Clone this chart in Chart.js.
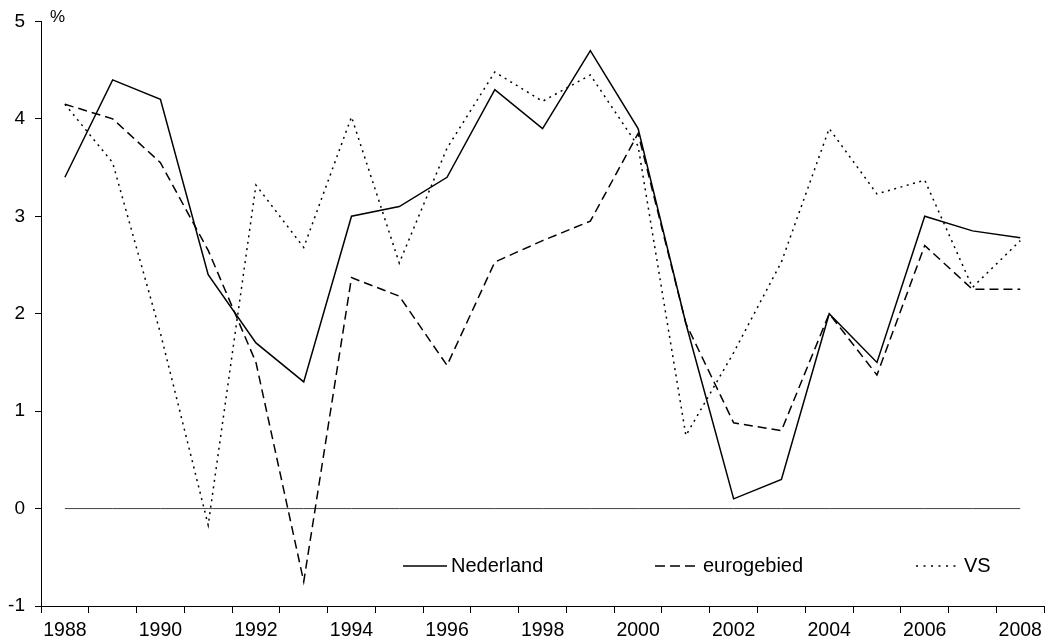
<!DOCTYPE html>
<html>
<head>
<meta charset="utf-8">
<script src="https://cdn.jsdelivr.net/npm/chart.js@4/dist/chart.umd.min.js"></script>
<style>
  html, body { margin: 0; padding: 0; background: #fff; }
  canvas { display: block; }
</style>
</head>
<body>
<canvas id="c" width="1048" height="640"></canvas>
<script>
const years = ['1988','1989','1990','1991','1992','1993','1994','1995','1996','1997','1998','1999','2000','2001','2002','2003','2004','2005','2006','2007','2008'];
const nederland = [3.4, 4.4, 4.2, 2.4, 1.7, 1.3, 3.0, 3.1, 3.4, 4.3, 3.9, 4.7, 3.9, 1.9, 0.1, 0.3, 2.0, 1.5, 3.0, 2.85, 2.78];
const eurogebied = [4.15, 4.0, 3.55, 2.65, 1.5, -0.75, 2.37, 2.18, 1.47, 2.53, 2.75, 2.95, 3.85, 1.9, 0.88, 0.8, 2.0, 1.37, 2.7, 2.25, 2.25];
const vs = [4.15, 3.55, 1.8, -0.17, 3.32, 2.68, 4.02, 2.52, 3.7, 4.48, 4.18, 4.45, 3.72, 0.75, 1.6, 2.53, 3.9, 3.23, 3.37, 2.27, 2.75];
const zeroLine = [0,0,0,0,0,0,0,0,0,0,0,0,0,0,0,0,0,0,0,0,0];
const seriesNames = ['Nederland', 'eurogebied', 'VS'];
const yUnit = '%';

const FONT = '"Liberation Sans", Arial, sans-serif';

const overlay = {
  id: 'overlay',
  afterDraw(chart) {
    const ctx = chart.ctx;
    ctx.save();
    ctx.fillStyle = '#000';
    ctx.font = '17px ' + FONT;
    ctx.textBaseline = 'middle';
    ctx.textAlign = 'left';
    ctx.fillText(yUnit, 50, 17);
    // legend
    const starts = [403, 655, 916];
    const y = 566;
    ctx.font = '20px ' + FONT;
    for (let i = 0; i < 3; i++) {
      const ds = chart.data.datasets[i];
      ctx.beginPath();
      ctx.strokeStyle = '#000';
      ctx.lineWidth = ds.borderWidth;
      ctx.setLineDash(i === 0 ? [] : (i === 1 ? [10, 5] : [2, 5.5]));
      ctx.moveTo(starts[i], y);
      ctx.lineTo(starts[i] + 44, y);
      ctx.stroke();
      ctx.setLineDash([]);
      ctx.fillText(ds.label, starts[i] + 48, y);
    }
    ctx.restore();
  }
};

new Chart(document.getElementById('c'), {
  type: 'line',
  data: {
    labels: years,
    datasets: [
      { label: seriesNames[0], data: nederland, borderColor: '#000', borderWidth: 1.5, pointRadius: 0, tension: 0, fill: false },
      { label: seriesNames[1], data: eurogebied, borderColor: '#000', borderWidth: 1.5, borderDash: [9, 5], pointRadius: 0, tension: 0, fill: false },
      { label: seriesNames[2], data: vs, borderColor: '#000', borderWidth: 1.5, borderDash: [2, 4.5], pointRadius: 0, tension: 0, fill: false },
      { label: 'zero', data: zeroLine, borderColor: '#444', borderWidth: 1, pointRadius: 0, tension: 0, fill: false }
    ]
  },
  options: {
    responsive: false,
    animation: false,
    layout: { padding: { top: 20, right: 2, left: 0, bottom: 0 } },
    plugins: { legend: { display: false }, tooltip: { enabled: false } },
    scales: {
      x: {
        type: 'category',
        offset: true,
        grid: { offset: true, drawOnChartArea: false, drawTicks: true, tickLength: 7, color: '#000', lineWidth: 1 },
        border: { display: true, color: '#000', width: 1 },
        ticks: {
          autoSkip: false, maxRotation: 0, minRotation: 0, padding: 6,
          color: '#000', font: { family: FONT, size: 19.5 },
          callback: function(v, i) { return (i % 2 === 0) ? this.getLabelForValue(v) : ''; }
        },
        afterFit(scale) { scale.height = 34; }
      },
      y: {
        min: -1, max: 5,
        grid: { drawOnChartArea: false, drawTicks: true, tickLength: 6, color: '#000', lineWidth: 1 },
        border: { display: true, color: '#000', width: 1 },
        ticks: { stepSize: 1, padding: 10, color: '#000', font: { family: FONT, size: 19 } },
        afterFit(scale) { scale.width = 41; }
      }
    }
  },
  plugins: [overlay]
});
</script>
</body>
</html>
